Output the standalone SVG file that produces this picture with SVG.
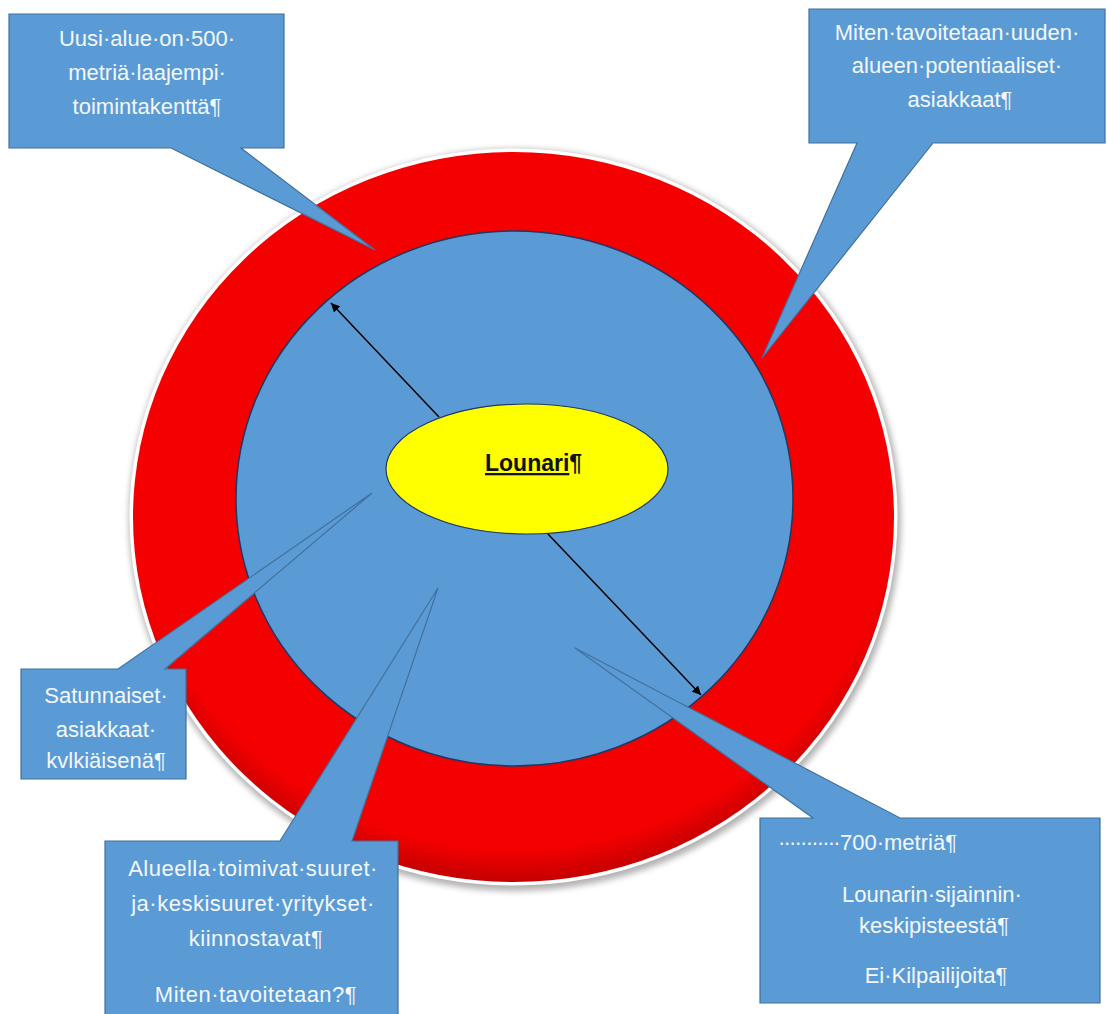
<svg xmlns="http://www.w3.org/2000/svg" width="1107" height="1014" viewBox="0 0 1107 1014">
<style>
.callout{fill:#5b9bd5;stroke:#41719c;stroke-width:1.2;stroke-linejoin:miter}
.ct{font-family:"Liberation Sans",Arial,sans-serif;font-size:22px;fill:#f3f7fc;text-anchor:middle}
.ct4{letter-spacing:0.5px}
.arrow{stroke:#000;stroke-width:1.5;fill:none;marker-end:url(#ah)}
</style>
<defs>
<marker id="ah" viewBox="0 0 10 10" refX="10" refY="5" markerWidth="9" markerHeight="9" markerUnits="userSpaceOnUse" orient="auto">
<path d="M0,0 L10,5 L0,10 Z" fill="#000"/>
</marker>
<filter id="sh" x="-10%" y="-10%" width="120%" height="120%">
<feGaussianBlur stdDeviation="3"/>
</filter>
<radialGradient id="redg" cx="0.5" cy="0.45" r="0.55">
<stop offset="0.92" stop-color="#f40000"/>
<stop offset="1" stop-color="#c40000"/>
</radialGradient>
</defs>
<rect width="1107" height="1014" fill="#fff"/>
<g id="outer-ring">
<ellipse cx="515" cy="520" rx="386" ry="371" fill="#000" opacity="0.3" filter="url(#sh)"/>
<ellipse cx="513.5" cy="517" rx="384" ry="368.5" fill="#fff"/>
<ellipse cx="513.5" cy="517" rx="380.5" ry="365" fill="url(#redg)"/>
</g>
<g id="inner-circle">
<ellipse cx="514.5" cy="498.5" rx="278.5" ry="267.5" fill="#5b9bd5" stroke="#1f3864" stroke-width="1.5"/>
</g>
<g id="connectors">
<line class="arrow" x1="439" y1="417" x2="331" y2="303"/>
<line class="arrow" x1="548" y1="534" x2="701" y2="695"/>
</g>
<g id="lounari">
<ellipse cx="527" cy="469" rx="141" ry="65" fill="#ffff00" stroke="#1f3864" stroke-width="1.2"/>
<text x="485" y="471" font-family="'Liberation Sans',Arial,sans-serif" font-size="23" font-weight="bold" fill="#111"><tspan text-decoration="underline">Lounari</tspan>¶</text>
</g>
<g id="callout-1">
<path class="callout" d="M9,14 H284 V148 H241 L375,250 L171,148 H9 Z"/>
<text class="ct"><tspan x="147" y="46">Uusi·alue·on·500·</tspan><tspan x="147" y="80">metriä·laajempi·</tspan><tspan x="147" y="114">toimintakenttä¶</tspan></text>
</g>
<g id="callout-2">
<path class="callout" d="M809,9 H1105 V143 H933 L762,358 L857,143 H809 Z"/>
<text class="ct"><tspan x="957" y="40">Miten·tavoitetaan·uuden·</tspan><tspan x="957" y="73">alueen·potentiaaliset·</tspan><tspan x="960" y="107">asiakkaat¶</tspan></text>
</g>
<g id="callout-3">
<path class="callout" d="M21,669 H118 L372,493 L165,669 H186 V779 H21 Z"/>
<text class="ct"><tspan x="106" y="703">Satunnaiset·</tspan><tspan x="106" y="737">asiakkaat·</tspan><tspan x="106" y="768">kvlkiäisenä¶</tspan></text>
</g>
<g id="callout-4">
<path class="callout" d="M105,841 H280 L438,588 L352,841 H398 V1020 H105 Z"/>
<text class="ct ct4"><tspan x="253" y="876">Alueella·toimivat·suuret·</tspan><tspan x="253" y="911">ja·keskisuuret·yritykset·</tspan><tspan x="256" y="946">kiinnostavat¶</tspan><tspan x="256" y="1002">Miten·tavoitetaan?¶</tspan></text>
</g>
<g id="callout-5">
<path class="callout" d="M760,818 H813 L575,648 L900,818 H1100 V1003 H760 Z"/>
<text class="ct" style="text-anchor:start"><tspan x="778" y="850" letter-spacing="-1.8">···········</tspan><tspan x="840" y="850">700·metriä¶</tspan></text>
<text class="ct"><tspan x="932" y="902">Lounarin·sijainnin·</tspan><tspan x="934" y="933">keskipisteestä¶</tspan><tspan x="936" y="983">Ei·Kilpailijoita¶</tspan></text>
</g>
</svg>
